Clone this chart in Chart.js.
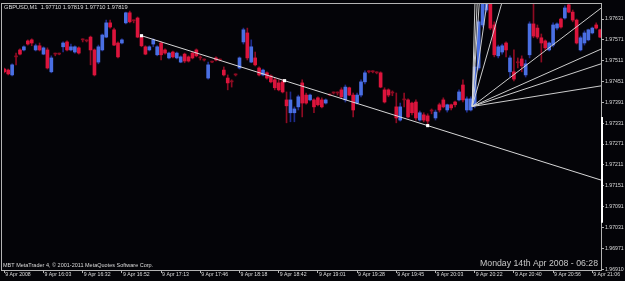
<!DOCTYPE html>
<html>
<head>
<meta charset="utf-8">
<script src="https://cdn.jsdelivr.net/npm/chart.js@4.4.1/dist/chart.umd.min.js"></script>
<style>
  html, body { margin: 0; padding: 0; background: #040408; }
  #wrap { width: 625px; height: 281px; }
</style>
</head>
<body>
<div id="wrap"><canvas id="myChart" width="625" height="281"></canvas></div>
<script>
// GBPUSD M1, prices in points (1 point = 0.00001)
const opens = [
197487,197484,197470,197522,197542,197542,197568,197571,197542,197554,
197530,197542,197479,197530,197530,197551,197565,197542,197536,197548,
197571,197568,197579,197542,197507,197542,197579,197620,197600,197562,
197562,197620,197649,197626,197634,197579,197551,197542,197559,197528,
197562,197542,197519,197536,197519,197507,197530,197522,197533,197542,
197519,197513,197461,197507,197519,197513,197484,197461,197450,197470,
197490,197565,197591,197507,197519,197490,197470,197476,197467,197456,
197447,197450,197398,197361,197361,197378,197447,197412,197398,197398,
197404,197398,197389,197412,197418,197418,197427,197398,197433,197412,
197389,197412,197450,197479,197479,197476,197476,197427,197427,197418,
197378,197340,197398,197398,197389,197392,197340,197355,197352,197366,
197346,197384,197398,197369,197384,197392,197398,197441,197369,197369,
197384,197490,197614,197657,197692,197614,197525,197536,197562,197479,
197479,197505,197516,197470,197528,197617,197605,197577,197568,197542,
197556,197605,197631,197634,197672,197651,197628,197542,197562,197571,
197591,197614,197600
];
const highs = [
197490,197487,197502,197533,197545,197554,197571,197574,197559,197562,
197551,197548,197525,197533,197533,197565,197568,197559,197554,197551,
197574,197571,197582,197545,197556,197588,197628,197628,197605,197565,
197574,197651,197654,197628,197637,197583,197554,197554,197574,197554,
197565,197545,197536,197539,197536,197525,197533,197525,197536,197545,
197525,197516,197507,197510,197522,197516,197493,197470,197456,197473,
197522,197605,197605,197571,197536,197493,197487,197479,197470,197461,
197456,197456,197421,197421,197378,197412,197456,197418,197415,197401,
197407,197404,197401,197415,197421,197421,197433,197441,197435,197418,
197418,197456,197482,197482,197482,197479,197479,197433,197430,197424,
197418,197389,197418,197401,197392,197398,197366,197361,197358,197372,
197369,197389,197404,197386,197386,197395,197427,197456,197407,197407,
197499,197628,197695,197715,197709,197623,197556,197559,197565,197525,
197542,197519,197525,197513,197623,197680,197614,197588,197571,197565,
197620,197620,197634,197669,197674,197657,197631,197582,197597,197602,
197608,197620,197602
];
const lows = [
197476,197470,197467,197499,197528,197539,197556,197554,197539,197539,
197528,197487,197476,197525,197528,197536,197539,197539,197533,197530,
197565,197565,197499,197467,197502,197539,197577,197605,197554,197519,
197559,197617,197620,197620,197577,197551,197528,197539,197551,197525,
197513,197530,197516,197519,197516,197505,197505,197507,197516,197522,
197513,197510,197458,197505,197510,197510,197467,197427,197435,197467,
197487,197559,197513,197505,197496,197467,197467,197458,197447,197427,
197424,197418,197332,197335,197335,197369,197349,197386,197395,197361,
197381,197375,197386,197410,197415,197412,197404,197392,197410,197349,
197386,197407,197444,197476,197476,197473,197433,197389,197407,197410,
197332,197337,197378,197346,197355,197340,197337,197335,197324,197358,
197340,197363,197375,197363,197369,197378,197395,197392,197363,197366,
197375,197484,197608,197651,197600,197522,197519,197530,197522,197464,
197453,197490,197479,197464,197519,197577,197574,197507,197542,197539,
197551,197600,197605,197631,197649,197623,197559,197539,197556,197568,
197588,197602,197577
];
const closes = [
197479,197473,197499,197522,197530,197551,197559,197562,197554,197542,
197548,197490,197519,197530,197530,197562,197542,197551,197551,197533,
197571,197568,197542,197470,197551,197585,197620,197608,197556,197522,
197571,197649,197623,197626,197579,197554,197530,197551,197571,197551,
197528,197533,197533,197522,197533,197522,197510,197510,197519,197525,
197519,197513,197499,197507,197513,197513,197470,197447,197450,197470,
197519,197600,197519,197551,197499,197470,197484,197461,197450,197433,
197427,197421,197381,197398,197372,197407,197389,197389,197412,197378,
197384,197378,197398,197412,197418,197418,197407,197435,197412,197369,
197412,197450,197476,197479,197479,197476,197435,197392,197412,197418,
197346,197378,197398,197349,197361,197346,197361,197340,197337,197366,
197363,197369,197378,197384,197375,197384,197421,197398,197401,197401,
197493,197623,197680,197703,197605,197528,197551,197554,197542,197519,
197458,197505,197496,197502,197617,197582,197579,197562,197548,197562,
197614,197617,197608,197663,197651,197628,197562,197577,197591,197600,
197605,197605,197579
];

const timeLabels = ["9 Apr 2008", "9 Apr 16:03", "9 Apr 16:32", "9 Apr 16:52", "9 Apr 17:13",
  "9 Apr 17:46", "9 Apr 18:18", "9 Apr 18:42", "9 Apr 19:01", "9 Apr 19:28", "9 Apr 19:45",
  "9 Apr 20:03", "9 Apr 20:22", "9 Apr 20:40", "9 Apr 20:56", "9 Apr 21:06"];
const timeTickBars = [0, 10, 20, 30, 40, 50, 60, 70, 80, 90, 100, 110, 120, 130, 140, 150];
const priceTicks = [1.97631, 1.97571, 1.97511, 1.97451, 1.97391, 1.97331, 1.97271,
  1.97211, 1.97151, 1.97091, 1.97031, 1.96971, 1.96910];

// trend line (ray) anchors: bar index, price
const trendBars = [35, 108];
const trendPrices = [1.97583, 1.97324];

// gann fan: origin and slopes (price per bar)
const fanOrigin = { bar: 119.35, price: 1.97379 };
const fanSlopes = [0.00416, 0.00232, 0.00164, 0.00079, 0.000394, 0.0000862, 0.0000503, 0.0000374, 0.0000181];

const scrollMark = [1.97349, 1.97044];

const bullBody = "#4a6fe3";
const bearBody = "#dc143c";
const bullWick = "#1e2c8c";
const bearWick = "#8e0b22";
const frameColor = "#b4b4b4";
const textColor = "#dcdcdc";

const toPrice = p => p / 100000;

function barColor(i) {
  if (closes[i] > opens[i]) return bullBody;
  if (closes[i] < opens[i]) return bearBody;
  return bearWick;
}
function wickColor(i) {
  return closes[i] > opens[i] ? bullWick : bearWick;
}

let bodies = opens.map((o, i) => ({ x: i, y: [toPrice(o), toPrice(closes[i])] }));
let wicks = lows.map((l, i) => ({ x: i, y: [toPrice(l), toPrice(highs[i])] }));

// ray: extend past the last anchor
const trendSlope = (trendPrices[1] - trendPrices[0]) / (trendBars[1] - trendBars[0]);
const rayEnd = 200;
let trendLine = [
  { x: trendBars[0], y: trendPrices[0] },
  { x: rayEnd, y: trendPrices[0] + trendSlope * (rayEnd - trendBars[0]) }
];
let trendDots = [
  { x: trendBars[0], y: trendPrices[0] },
  { x: (trendBars[0] + trendBars[1]) / 2, y: (trendPrices[0] + trendPrices[1]) / 2 },
  { x: trendBars[1], y: trendPrices[1] }
];

let fanSets = fanSlopes.map(s => ({
  type: "line",
  data: [
    { x: fanOrigin.bar, y: fanOrigin.price },
    { x: fanOrigin.bar + 60, y: fanOrigin.price + s * 60 }
  ],
  borderColor: "rgba(215,215,215,0.95)",
  borderWidth: 1,
  pointRadius: 0,
  order: -1
}));

const mtPlugin = {
  id: "mt4",
  beforeDraw(chart) {
    const c = chart.ctx;
    c.save();
    c.fillStyle = "#040408";
    c.fillRect(0, 0, chart.width, chart.height);
    c.restore();
  },
  afterDraw(chart) {
    const c = chart.ctx;
    const a = chart.chartArea;
    const y = chart.scales.y;
    c.save();
    c.strokeStyle = frameColor;
    c.lineWidth = 1;
    c.strokeRect(1.5, 3.5, a.right - 1, a.bottom - 3);
    // highlighted part of the price scale
    c.strokeStyle = "#ffffff";
    c.lineWidth = 2;
    c.beginPath();
    c.moveTo(a.right + 1, y.getPixelForValue(scrollMark[0]));
    c.lineTo(a.right + 1, y.getPixelForValue(scrollMark[1]));
    c.stroke();

    c.fillStyle = textColor;
    c.textBaseline = "top";
    c.font = "5.7px 'Liberation Sans'";
    c.fillText("GBPUSD,M1  1.97710 1.97819 1.97710 1.97819", 4, 4.5, 124);
    c.textBaseline = "alphabetic";
    c.font = "5.5px 'Liberation Sans'";
    c.fillText("MBT MetaTrader 4, \u00a9 2001-2011 MetaQuotes Software Corp.", 3, 267, 167);
    c.fillStyle = "#c8c8c8";
    c.font = "9px 'Liberation Sans'";
    c.fillText("Monday 14th Apr 2008 - 06:28", 480, 266, 118);
    c.restore();
  }
};

let ctx = document.getElementById("myChart").getContext("2d");
let myChart = new Chart(ctx, {
  type: "bar",
  data: {
    datasets: [
      {
        label: "body",
        data: bodies,
        backgroundColor: c => barColor(c.dataIndex),
        barThickness: 3,
        minBarLength: 1,
        grouped: false,
        order: 0
      },
      {
        label: "wick",
        data: wicks,
        backgroundColor: c => wickColor(c.dataIndex),
        barThickness: 1,
        grouped: false,
        order: 1
      },
      {
        type: "line",
        data: trendLine,
        borderColor: "rgba(225,225,225,0.95)",
        borderWidth: 1,
        pointRadius: 0,
        order: -1
      },
      {
        type: "line",
        data: trendDots,
        showLine: false,
        pointStyle: "rect",
        pointRadius: 2.2,
        pointBackgroundColor: "#ffffff",
        pointBorderWidth: 0,
        order: -2
      },
      ...fanSets
    ]
  },
  options: {
    responsive: false,
    animation: false,
    events: [],
    layout: { padding: { left: 2, top: 4, right: 0, bottom: 0 } },
    plugins: { legend: { display: false }, tooltip: { enabled: false } },
    scales: {
      x: {
        type: "linear",
        offset: false,
        min: -0.076,
        max: 152.22,
        grid: { offset: false, drawOnChartArea: false, drawTicks: true, tickLength: 3, color: frameColor },
        border: { display: false },
        afterBuildTicks: s => { s.ticks = timeTickBars.map(v => ({ value: v })); },
        afterFit: s => { s.height = 11; s.paddingLeft = 0; s.paddingRight = 0; },
        ticks: {
          autoSkip: false,
          maxRotation: 0,
          align: "start",
          padding: -2,
          labelOffset: 1,
          color: textColor,
          font: { family: "Liberation Sans", size: 5.2 },
          callback: (v, i) => timeLabels[i]
        }
      },
      y: {
        type: "linear",
        position: "right",
        min: 1.96908,
        max: 1.97674,
        grid: { drawOnChartArea: false, drawTicks: true, tickLength: 3, color: frameColor },
        border: { display: false },
        afterBuildTicks: s => { s.ticks = priceTicks.map(v => ({ value: v })); },
        afterFit: s => { s.width = 24; },
        ticks: {
          autoSkip: false,
          padding: 1,
          color: textColor,
          font: { family: "Liberation Sans", size: 5.2 },
          callback: v => v.toFixed(5)
        }
      }
    }
  },
  plugins: [mtPlugin]
});
</script>
</body>
</html>
